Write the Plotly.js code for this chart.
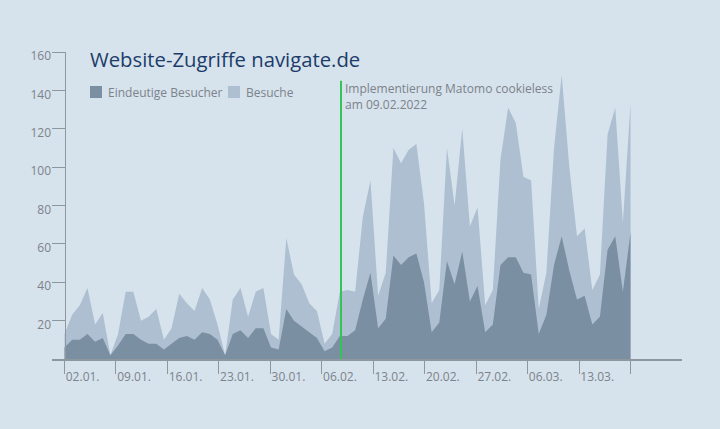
<!DOCTYPE html>
<html>
<head>
<meta charset="utf-8">
<script src="https://cdn.plot.ly/plotly-3.0.1.min.js"></script>
<style>
  html, body { margin: 0; padding: 0; background: #d6e2ec; }
  #chart { width: 720px; height: 429px; }
</style>
</head>
<body>
<div id="chart"></div>
<script>
// daily values
var visits = [13, 23, 28, 37, 18, 24, 2, 13, 35, 35, 20, 22, 26, 10, 16, 34, 29, 25, 37, 31,
              18, 2, 31, 37, 22, 35, 37, 13, 10, 63, 44, 39, 29, 25, 8, 13, 35, 36, 35, 74,
              93, 33, 45, 110, 102, 109, 112, 81, 29, 36, 110, 80, 120, 69, 79, 28, 36, 104, 131, 123,
              95, 93, 26, 45, 110, 148, 100, 64, 68, 36, 44, 117, 131, 71, 133];
var uniqueVisitors = [6, 10, 10, 13, 9, 11, 2, 7, 13, 13, 10, 8, 8, 5, 8, 11, 12, 10, 14, 13,
                      10, 2, 13, 15, 11, 16, 16, 6, 5, 26, 20, 17, 14, 11, 4, 6, 12, 12, 15, 31,
                      45, 16, 21, 54, 49, 53, 55, 40, 14, 19, 51, 39, 56, 30, 38, 14, 18, 49, 53, 53,
                      45, 44, 13, 23, 49, 64, 46, 31, 33, 18, 22, 57, 64, 35, 66];

var weekTicks = ['2022-01-02', '2022-01-09', '2022-01-16', '2022-01-23', '2022-01-30', '2022-02-06',
                 '2022-02-13', '2022-02-20', '2022-02-27', '2022-03-06', '2022-03-13', '2022-03-20'];
var weekLabels = ['02.01.', '09.01.', '16.01.', '23.01.', '30.01.', '06.02.',
                  '13.02.', '20.02.', '27.02.', '06.03.', '13.03.', ''];
var yTicks = [20, 40, 60, 80, 100, 120, 140, 160];

var seriesNames = ['Eindeutige Besucher', 'Besuche'];
var eventPoint = 36.15;
var eventLines = ['Implementierung Matomo cookieless', 'am 09.02.2022'];

var colDark = '#7a8fa2';
var colLight = '#adbfd0';
var colBg = '#d6e2ec';
var colAxis = '#8e969e';
var colText = '#7c838a';

// page geometry (px)
var W = 720, H = 429;
var m = {l: 52, r: 38, t: 52, b: 70};
var plotW = W - m.l - m.r, plotH = H - m.t - m.b;
var axisPx = 64.5;          // where the y axis and first point sit
var pointPx = 7.649;        // spacing of the daily points
var dayPx = 7.351;          // spacing of the date ticks

function paperX(px){ return (px - m.l) / plotW; }
function paperY(py){ return 1 - (py - m.t) / plotH; }

var idx = visits.map(function(v, i){ return i; });
var xRange = [-(axisPx - m.l) / pointPx, (W - m.r - axisPx) / pointPx];

var day0 = new Date(weekTicks[0] + 'T00:00:00Z').getTime();
function shiftDays(d){ return new Date(day0 + d * 864e5).toISOString().slice(0, 19).replace('T', ' '); }
var dateRange = [shiftDays(-(axisPx - m.l) / dayPx), shiftDays((W - m.r - axisPx) / dayPx)];

var data = [
  {
    x: idx, y: visits, name: seriesNames[1],
    type: 'scatter', mode: 'lines', fill: 'tozeroy',
    line: {width: 0, color: colLight}, fillcolor: colLight,
    showlegend: false, hoverinfo: 'y+name'
  },
  {
    x: idx, y: uniqueVisitors, name: seriesNames[0],
    type: 'scatter', mode: 'lines', fill: 'tozeroy',
    line: {width: 0, color: colDark}, fillcolor: colDark,
    showlegend: false, hoverinfo: 'y+name'
  }
];

// legend drawn by hand: square + label
var legendShapes = [
  {type: 'rect', xref: 'paper', yref: 'paper', x0: paperX(90), x1: paperX(102), y0: paperY(86), y1: paperY(98),
   fillcolor: colDark, line: {width: 0}},
  {type: 'rect', xref: 'paper', yref: 'paper', x0: paperX(228), x1: paperX(240), y0: paperY(86), y1: paperY(98),
   fillcolor: colLight, line: {width: 0}}
];
var legendLabels = [
  {text: seriesNames[0], x: paperX(106), y: paperY(92)},
  {text: seriesNames[1], x: paperX(244), y: paperY(92)}
].map(function(a){
  return {text: a.text, xref: 'paper', yref: 'paper', x: a.x, y: a.y, xanchor: 'left', yanchor: 'middle',
          showarrow: false, font: {family: 'Open Sans', size: 12, color: colText}};
});

// note next to the green marker line, two lines in one text block
var eventLabel = {
  text: eventLines.join('<br>'), xref: 'paper', yref: 'paper', x: paperX(344), y: paperY(96.5),
  xanchor: 'left', yanchor: 'middle', align: 'left', showarrow: false, borderpad: 0,
  font: {family: 'Open Sans', size: 12, color: colText}
};

var layout = {
  width: W, height: H,
  margin: m,
  paper_bgcolor: colBg,
  plot_bgcolor: colBg,
  showlegend: false,
  hovermode: 'x',
  font: {family: 'Open Sans', color: colText},
  title: {
    text: 'Website-Zugriffe navigate.de',
    font: {family: 'Open Sans', size: 20.3, color: '#1c3c6a'},
    xref: 'paper', x: paperX(90), xanchor: 'left',
    yref: 'container', y: 1 - 60 / H, yanchor: 'middle'
  },
  xaxis: {
    range: xRange, visible: false, fixedrange: true
  },
  xaxis2: {
    type: 'date', overlaying: 'x', anchor: 'y', side: 'bottom',
    range: dateRange,
    tickmode: 'array', tickvals: weekTicks, ticktext: weekLabels,
    ticks: 'outside', ticklen: 13, tickwidth: 1, tickcolor: colAxis,
    ticklabelposition: 'outside right', ticklabelstandoff: 6,
    showline: true, linecolor: colAxis, linewidth: 1.5,
    showgrid: false, zeroline: false,
    tickfont: {family: 'Open Sans', size: 12, color: colText}
  },
  yaxis: {
    range: [0, 160], anchor: 'free', position: paperX(axisPx),
    tickmode: 'array', tickvals: yTicks,
    ticks: 'outside', ticklen: 13, tickwidth: 1, tickcolor: colAxis,
    ticklabelstandoff: -2, ticklabelshift: 4,
    showline: true, linecolor: colAxis, linewidth: 1.5,
    showgrid: false, zeroline: false,
    tickfont: {family: 'Open Sans', size: 12, color: colText}
  },
  shapes: legendShapes.concat([
    {type: 'line', xref: 'x', yref: 'y', x0: eventPoint, x1: eventPoint, y0: 0, y1: 145,
     line: {color: '#33c553', width: 2}}
  ]),
  annotations: legendLabels.concat([eventLabel])
};

// the date axis needs a trace to exist, keep it invisible
data.push({x: [weekTicks[0]], y: [null], xaxis: 'x2', yaxis: 'y', type: 'scatter', mode: 'lines',
           showlegend: false, hoverinfo: 'skip'});

Plotly.newPlot('chart', data, layout, {displayModeBar: false, staticPlot: true});
</script>
</body>
</html>
